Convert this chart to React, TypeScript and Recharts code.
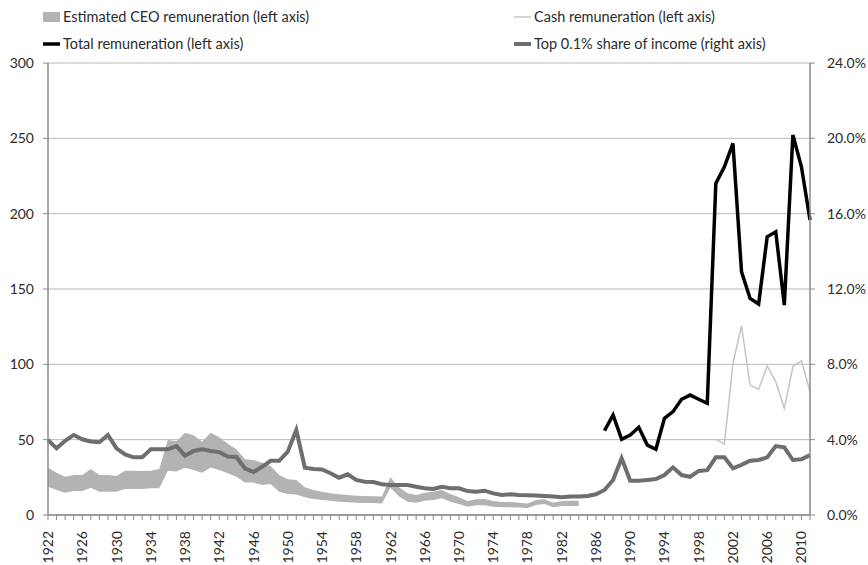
import React from 'react';
import { ComposedChart, Area, Line, XAxis, YAxis, CartesianGrid, Legend } from 'recharts';

// ---- Data ----
const FIRST_YEAR = 1922;
const LAST_YEAR = 2011;

// Top 0.1% share of income (%), 1922-2011 (right axis)
const topShare: number[] = [
  3.98, 3.54, 3.94, 4.25, 4.02, 3.9, 3.86, 4.25, 3.54, 3.22,
  3.06, 3.06, 3.49, 3.49, 3.49, 3.66, 3.15, 3.4, 3.49, 3.4,
  3.34, 3.1, 3.08, 2.48, 2.28, 2.56, 2.88, 2.88, 3.36, 4.51,
  2.51, 2.44, 2.42, 2.22, 1.98, 2.16, 1.86, 1.77, 1.75, 1.63,
  1.59, 1.59, 1.59, 1.5, 1.42, 1.38, 1.5, 1.42, 1.42, 1.27,
  1.24, 1.29, 1.15, 1.06, 1.1, 1.06, 1.05, 1.04, 1.01, 0.98,
  0.94, 0.98, 0.98, 1.01, 1.1, 1.33, 1.86, 3.01, 1.82, 1.82,
  1.86, 1.91, 2.12, 2.53, 2.12, 2.03, 2.34, 2.38, 3.06, 3.06,
  2.48, 2.66, 2.88, 2.92, 3.06, 3.66, 3.59, 2.92, 2.96, 3.18,
];

// Estimated CEO remuneration band, 1922-1984 (left axis)
const BAND_START = 1922;
const bandHigh: number[] = [
  31.4, 28.1, 25.4, 26.5, 26.5, 30.5, 26.5, 26.5, 25.9, 29.4,
  29.4, 29.2, 29.4, 30.5, 50, 49, 54.6, 52.9, 48.7, 54.6,
  51.6, 47.3, 43.6, 37, 36.5, 34.7, 32.5, 26.5, 23.7, 23.2,
  18.4, 16.6, 15.5, 14.4, 13.7, 13.3, 12.8, 12.6, 12.4, 12.2,
  25, 18.4, 14.4, 13.3, 14.8, 15.5, 16.6, 13.9, 11.7, 9.3,
  10.4, 10.6, 9.3, 8.6, 8.6, 8.2, 7.7, 10, 10.4, 8.2,
  9.3, 9.5, 9.5,
];
const bandLow: number[] = [
  18.8, 16.6, 14.8, 15.9, 15.9, 18.1, 15.5, 15.5, 15.5, 17.3,
  17.3, 17.3, 17.7, 17.7, 29.4, 28.8, 31.4, 29.9, 28.1, 31.6,
  29.9, 27.7, 25.4, 21.5, 21.5, 19.9, 20.6, 15.5, 13.9, 13.6,
  11.7, 10.6, 10, 9.5, 8.8, 8.4, 8.2, 8, 8, 7.7,
  18.1, 12.2, 8.8, 8.2, 9.5, 10, 11.1, 8.8, 7.3, 5.5,
  6.4, 6.4, 5.5, 5.1, 5.1, 4.9, 4.6, 6.6, 7.3, 5.1,
  6, 6, 6,
];

// Total remuneration, 1987-2011 (left axis)
const TOTAL_START = 1987;
const totalRem: number[] = [
  56, 66.4, 50.2, 53.1, 58.2, 46.4, 43.6, 64.2, 68.6, 76.8,
  79.6, 76.8, 74.1, 220.1, 231.1, 246.6, 161.5, 143.8, 140, 184.7,
  188, 139.3, 252.2, 231.1, 195.8,
];

// Cash remuneration, 2000-2011 (left axis)
const CASH_START = 2000;
const cashRem: number[] = [
  50.2, 47.1, 100.6, 125.6, 86.3, 83.4, 98.9, 88.5, 70.8, 98.4, 102.4, 81.8,
];

const leftTicks = [0, 50, 100, 150, 200, 250, 300];
const rightTicks = [0, 4, 8, 12, 16, 20, 24];
const LABEL_EVERY = 4;

const years: number[] = [];
for (let y = FIRST_YEAR; y <= LAST_YEAR; y++) years.push(y);

const pick = (arr: number[], start: number, year: number) => {
  const i = year - start;
  return i >= 0 && i < arr.length ? arr[i] : null;
};

const data = years.map((year) => {
  const lo = pick(bandLow, BAND_START, year);
  const hi = pick(bandHigh, BAND_START, year);
  return {
    year,
    band: lo != null && hi != null ? [lo, hi] : null,
    total: pick(totalRem, TOTAL_START, year),
    cash: pick(cashRem, CASH_START, year),
    top: pick(topShare, FIRST_YEAR, year),
  };
});

const FONT = 'Lato, "Open Sans", sans-serif';
const AXIS_COLOR = '#8a8a8a';
const TEXT_COLOR = '#2b2b2b';

const XTick = (props: any) => {
  const { x, y, payload } = props;
  const v = payload.value as number;
  const axisY = y - 8;
  const showLabel = (v - FIRST_YEAR) % LABEL_EVERY === 0;
  return (
    <g>
      <line x1={x} x2={x} y1={axisY} y2={axisY + 5} stroke={AXIS_COLOR} strokeWidth={1} />
      {showLabel && (
        <text
          x={x}
          y={axisY + 16}
          transform={`rotate(-90, ${x}, ${axisY + 16})`}
          textAnchor="end"
          dy="0.36em"
          fill={TEXT_COLOR}
          fontSize={14}
          fontFamily={FONT}
        >
          {v}
        </text>
      )}
    </g>
  );
};

const legendEntries = [
  { label: 'Estimated CEO remuneration (left axis)', kind: 'rect', color: '#b3b3b3', w: 0, col: 0, row: 0 },
  { label: 'Cash remuneration (left axis)', kind: 'line', color: '#c4c4c4', w: 1.5, col: 1, row: 0 },
  { label: 'Total remuneration (left axis)', kind: 'line', color: '#000000', w: 3.5, col: 0, row: 1 },
  { label: 'Top 0.1% share of income (right axis)', kind: 'line', color: '#6e6e6e', w: 4, col: 1, row: 1 },
];

const renderLegend = () => (
  <svg width={868} height={60} style={{ display: 'block' }}>
    {legendEntries.map((e) => {
      const x0 = e.col === 0 ? 43 : 514;
      const cy = e.row === 0 ? 17 : 44;
      return (
        <g key={e.label}>
          {e.kind === 'rect' ? (
            <rect x={x0} y={cy - 5} width={17} height={10} fill={e.color} />
          ) : (
            <line x1={x0} x2={x0 + 17} y1={cy} y2={cy} stroke={e.color} strokeWidth={e.w} />
          )}
          <text
            x={x0 + 20}
            y={cy}
            dy="0.35em"
            fontSize={14.5}
            fontFamily={FONT}
            fill={TEXT_COLOR}
          >
            {e.label}
          </text>
        </g>
      );
    })}
  </svg>
);

export default function App() {
  return (
    <div style={{ position: 'absolute', left: 0, top: 0, background: '#fff' }}>
      <ComposedChart
        width={868}
        height={565}
        data={data}
        margin={{ top: 63, right: 0, left: 0, bottom: 0 }}
      >
        <CartesianGrid yAxisId="left" horizontal vertical={false} stroke="#b8b8b8" strokeWidth={1} />
        <XAxis
          dataKey="year"
          type="number"
          domain={[FIRST_YEAR, LAST_YEAR]}
          ticks={years}
          interval={0}
          height={50}
          tickLine={false}
          tick={<XTick />}
          axisLine={{ stroke: AXIS_COLOR, strokeWidth: 1.5 }}
          allowDecimals={false}
        />
        <YAxis
          yAxisId="left"
          orientation="left"
          width={48}
          domain={[0, 300]}
          ticks={leftTicks}
          interval={0}
          tickSize={5}
          tickMargin={9}
          tickLine={{ stroke: AXIS_COLOR }}
          axisLine={{ stroke: AXIS_COLOR, strokeWidth: 1.5 }}
          tick={{ fill: TEXT_COLOR, fontSize: 14, fontFamily: FONT }}
        />
        <YAxis
          yAxisId="right"
          orientation="right"
          width={58}
          domain={[0, 24]}
          ticks={rightTicks}
          interval={0}
          tickSize={5}
          tickMargin={12}
          tickFormatter={(v: number) => v.toFixed(1) + '%'}
          tickLine={{ stroke: AXIS_COLOR }}
          axisLine={{ stroke: AXIS_COLOR, strokeWidth: 1.5 }}
          tick={{ fill: TEXT_COLOR, fontSize: 14, fontFamily: FONT, textAnchor: 'start' }}
        />
        <Legend
          verticalAlign="middle"
          layout="horizontal"
          content={renderLegend}
          wrapperStyle={{ position: 'absolute', top: 0, left: 0, width: 868, height: 60 }}
        />
        <Area
          yAxisId="left"
          type="linear"
          dataKey="band"
          stroke="none"
          fill="#b3b3b3"
          fillOpacity={1}
          isAnimationActive={false}
          connectNulls={false}
          dot={false}
          activeDot={false}
        />
        <Line
          yAxisId="right"
          type="linear"
          dataKey="top"
          stroke="#6e6e6e"
          strokeWidth={4}
          dot={false}
          activeDot={false}
          isAnimationActive={false}
        />
        <Line
          yAxisId="left"
          type="linear"
          dataKey="cash"
          stroke="#c4c4c4"
          strokeWidth={1.5}
          dot={false}
          activeDot={false}
          isAnimationActive={false}
        />
        <Line
          yAxisId="left"
          type="linear"
          dataKey="total"
          stroke="#000000"
          strokeWidth={3.5}
          dot={false}
          activeDot={false}
          isAnimationActive={false}
        />
      </ComposedChart>
    </div>
  );
}
